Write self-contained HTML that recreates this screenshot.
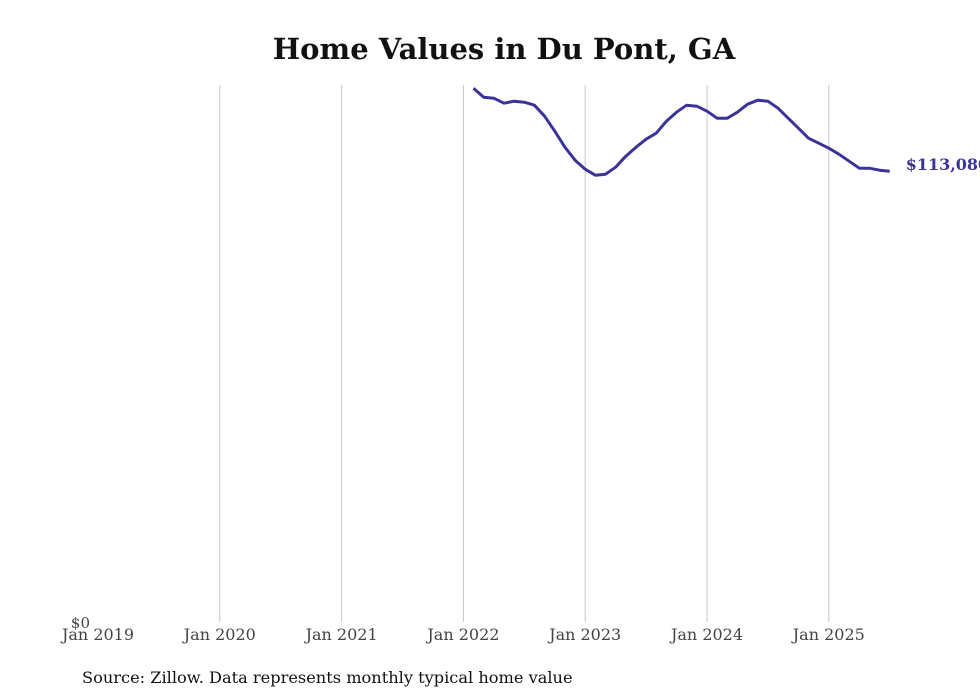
<!DOCTYPE html>
<html><head><meta charset="utf-8"><style>
body{margin:0;background:#fff;}
svg{display:block;font-family:"DejaVu Serif","Liberation Serif",serif;}
</style></head><body>
<svg id="chart" width="980" height="699" viewBox="0 0 980 699">
<text x="504" y="59" text-anchor="middle" font-size="29" font-weight="bold" fill="#111">Home Values in Du Pont, GA</text>
<g id="grid"></g>
<g id="xaxis"></g>
<text x="90" y="628" text-anchor="end" font-size="15" fill="#444">$0</text>
<g id="series"></g>
<text x="82" y="683" font-size="16.2" fill="#111">Source: Zillow. Data represents monthly typical home value</text>
</svg>
<script>
const tickLabels=["Jan 2019","Jan 2020","Jan 2021","Jan 2022","Jan 2023","Jan 2024","Jan 2025"];
const tickYears=[2019,2020,2021,2022,2023,2024,2025];
const startYear=2022, startMonth=1; // Feb 2022 (0-based month)
const values=[133800,131550,131300,130050,130550,130300,129550,126800,123060,119070,115820,113580,112080,112330,114080,116820,119070,121070,122560,125560,127800,129550,129300,128050,126310,126310,127800,129800,130800,130550,128800,126310,123810,121310,120070,118820,117320,115570,113830,113830,113330,113080];
const lastLabel="$113,080";
const NS="http://www.w3.org/2000/svg";
const x=t=>98+(t-2019)*121.8;
const y=v=>624-v*(539/134600);
const grid=document.getElementById('grid'),xa=document.getElementById('xaxis'),ser=document.getElementById('series');
tickYears.forEach((yr,i)=>{
  if(i>0){const l=document.createElementNS(NS,'line');
  
  
  l.setAttribute('x1',x(yr));l.setAttribute('x2',x(yr));l.setAttribute('y1',85);l.setAttribute('y2',622);
  l.setAttribute('stroke','#c8c8c8');l.setAttribute('stroke-width','1');grid.appendChild(l);}
  const t=document.createElementNS(NS,'text');
  
  
  t.setAttribute('x',x(yr));t.setAttribute('y',640);t.setAttribute('text-anchor','middle');
  t.setAttribute('font-size','16');t.setAttribute('fill','#444');t.textContent=tickLabels[i];xa.appendChild(t);
});
let pts=values.map((v,i)=>{const t=startYear+(startMonth+i)/12;return [x(t),y(v)];});
const p=document.createElementNS(NS,'polyline');


p.setAttribute('points',pts.map(q=>q[0].toFixed(1)+','+q[1].toFixed(1)).join(' '));
p.setAttribute('fill','none');p.setAttribute('stroke','#3a3399');p.setAttribute('stroke-width','3');p.setAttribute('stroke-linejoin','round');
ser.appendChild(p);
const last=pts[pts.length-1];
const lt=document.createElementNS(NS,'text');


lt.setAttribute('x',last[0]+16);lt.setAttribute('y',last[1]-1);lt.setAttribute('font-size','16');lt.setAttribute('font-weight','bold');lt.setAttribute('fill','#3a3399');
lt.textContent=lastLabel;ser.appendChild(lt);
</script>
</body></html>
